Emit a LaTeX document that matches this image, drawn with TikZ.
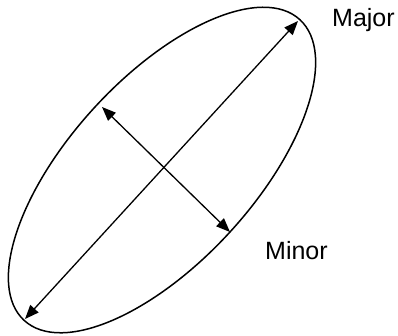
\documentclass[tikz,border=0pt]{standalone}
\usepackage{fontspec}
\setmainfont{Liberation Sans}
\usetikzlibrary{arrows.meta}
\begin{document}
\begin{tikzpicture}[x=1pt,y=1pt,
  outline/.style={line width=1.5pt},
  axisarrow/.style={line width=1.3pt,{Triangle[length=14pt,width=11pt]}-{Triangle[length=14pt,width=11pt]}},
  lbl/.style={inner sep=0pt,anchor=base west,font=\fontsize{25}{30}\selectfont}]
\useasboundingbox (0,0) rectangle (398,335);
\coordinate (c) at (162,165);
\draw[outline,rotate around={47.5:(c)}] (c) ellipse [x radius=204, y radius=92];
\coordinate (majA) at (25,16);
\coordinate (majB) at (298,314);
\coordinate (minA) at (102,228);
\coordinate (minB) at (230,103);
\draw[axisarrow] (majA) -- (majB);
\draw[axisarrow] (minA) -- (minB);
\node[lbl] (major) at (332,308.5) {Major};
\node[lbl] (minor) at (265,76) {Minor};
\end{tikzpicture}
\end{document}
